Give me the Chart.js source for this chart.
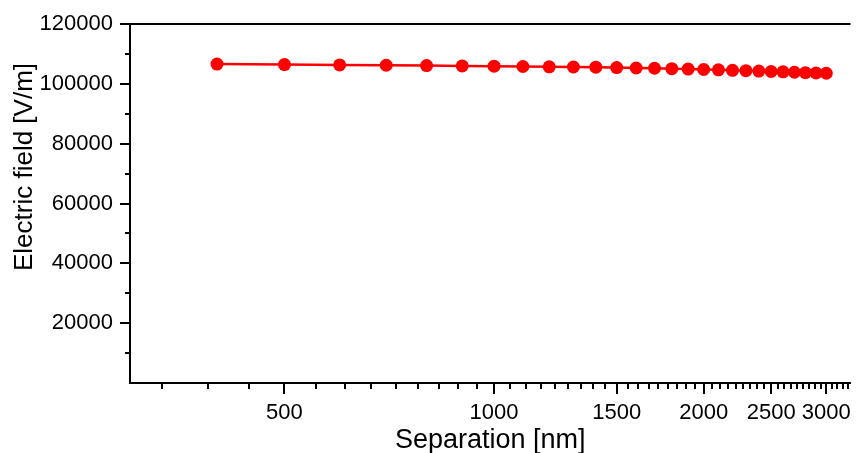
<!DOCTYPE html>
<html><head><meta charset="utf-8">
<script src="https://cdn.jsdelivr.net/npm/chart.js@4.4.1/dist/chart.umd.min.js"></script>
<style>html,body{margin:0;padding:0;background:#fff;overflow:hidden}#wrap{width:857px;height:453px}</style>
</head><body><div id="wrap"><canvas id="c" width="857" height="453"></canvas></div>
<script>
// ---- data ----
const separationNm = [400,500,600,700,800,900,1000,1100,1200,1300,1400,1500,1600,1700,1800,1900,2000,2100,2200,2300,2400,2500,2600,2700,2800,2900,3000];
const electricField = [106600,106450,106330,106220,106100,106000,105900,105800,105700,105630,105570,105430,105300,105200,105070,104930,104800,104670,104530,104400,104270,104130,104000,103870,103730,103630,103530];
const xMajorTicks = [500,1000,1500,2000,2500,3000];
const yMajorTicks = [20000,40000,60000,80000,100000,120000];
const yMinorTicks = [10000,30000,50000,70000,90000,110000];
const xTitle = 'Separation [nm]';
const yTitle = 'Electric field [V/m]';

const FONT = '"Liberation Sans", Arial, sans-serif';
const X_MIN = 300, X_MAX = 3250, X_MINOR_PER_MAJOR = 8;
Chart.defaults.color = '#000';
Chart.defaults.font.family = FONT;

const axisDecor = {
  id: 'axisDecor',
  afterDraw(chart) {
    const {ctx, chartArea: a, scales: {x, y}} = chart;
    ctx.save();
    ctx.strokeStyle = '#000';
    ctx.lineWidth = 2;
    // top frame line
    ctx.beginPath(); ctx.moveTo(a.left - 10, a.top); ctx.lineTo(a.right, a.top); ctx.stroke();
    // x tick marks (major + linear minor subdivisions)
    const step = (xMajorTicks[1] - xMajorTicks[0]) / (X_MINOR_PER_MAJOR + 1);
    ctx.beginPath();
    for (let n = Math.ceil(X_MIN / step); n * step <= X_MAX; n++) {
      const v = n * step;
      const major = xMajorTicks.some(t => Math.abs(t - v) < 1e-6);
      const px = Math.round(x.getPixelForValue(v));
      ctx.moveTo(px, a.bottom); ctx.lineTo(px, a.bottom + (major ? 11 : 6));
    }
    // y tick marks
    yMajorTicks.forEach(v => { const py = Math.round(y.getPixelForValue(v)); ctx.moveTo(a.left, py); ctx.lineTo(a.left - 10, py); });
    yMinorTicks.forEach(v => { const py = Math.round(y.getPixelForValue(v)); ctx.moveTo(a.left, py); ctx.lineTo(a.left - 5, py); });
    ctx.stroke();
    // y-axis title
    ctx.translate(32, 167);
    ctx.rotate(-Math.PI / 2);
    ctx.fillStyle = '#000';
    ctx.font = '26px ' + FONT;
    ctx.textAlign = 'center';
    ctx.textBaseline = 'alphabetic';
    ctx.fillText(yTitle, 0, 0);
    ctx.restore();
  }
};

new Chart(document.getElementById('c'), {
  type: 'scatter',
  data: {
    datasets: [{
      data: separationNm.map((s, i) => ({x: s, y: electricField[i]})),
      showLine: true,
      borderColor: '#ff0000',
      borderWidth: 2.5,
      backgroundColor: '#ff0000',
      pointBackgroundColor: '#ff0000',
      pointBorderWidth: 0,
      pointRadius: 6.5,
      tension: 0
    }]
  },
  options: {
    responsive: false,
    animation: false,
    layout: {padding: {top: 24, right: 0, bottom: 0, left: 0}},
    plugins: {legend: {display: false}, tooltip: {enabled: false}},
    scales: {
      x: {
        type: 'logarithmic',
        min: X_MIN, max: X_MAX,
        grid: {display: false, drawTicks: false},
        border: {display: true, color: '#000', width: 2},
        afterBuildTicks: s => { s.ticks = xMajorTicks.map(v => ({value: v})); },
        afterFit: s => { s.height = 70; s.paddingLeft = 0; s.paddingRight = 0; },
        ticks: {
          autoSkip: false, maxRotation: 0, padding: 17,
          font: {size: 22, family: FONT}, color: '#000',
          callback: v => String(v)
        },
        title: {display: true, text: xTitle, color: '#000', font: {size: 27, family: FONT, lineHeight: 1}, padding: {top: 0, bottom: -1}}
      },
      y: {
        min: 0, max: 120000,
        grid: {display: false, drawTicks: false},
        border: {display: true, color: '#000', width: 2},
        afterBuildTicks: s => { s.ticks = [0].concat(yMajorTicks).map(v => ({value: v})); },
        afterFit: s => { s.width = 130; s.paddingTop = 0; s.paddingBottom = 0; },
        ticks: {
          padding: 17, font: {size: 22, family: FONT}, color: '#000',
          callback: v => v === 0 ? '' : String(v)
        }
      }
    }
  },
  plugins: [axisDecor]
});
</script></body></html>
